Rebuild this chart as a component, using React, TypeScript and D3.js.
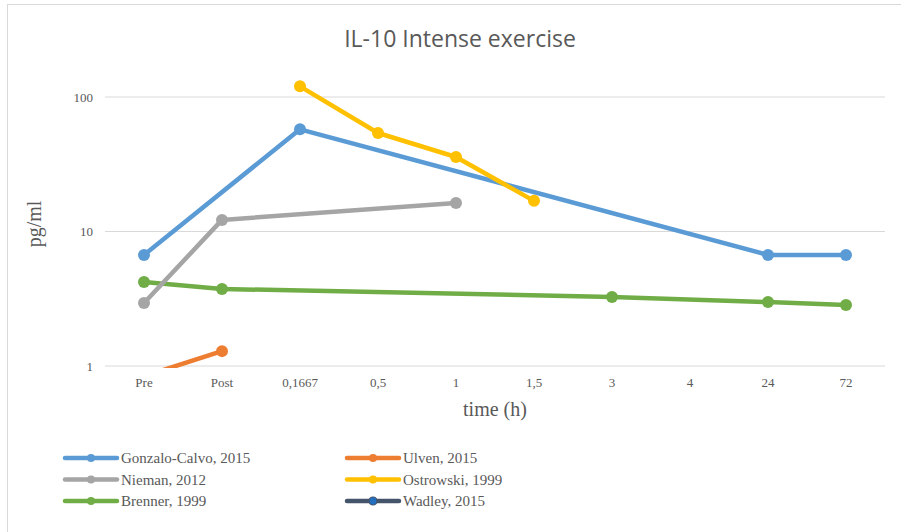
import React from "react";
import * as d3 from "d3";

const categories = ["Pre", "Post", "0,1667", "0,5", "1", "1,5", "3", "4", "24", "72"];
const gonzaloCalvo = [6.7, null, 57.5, null, null, null, null, null, 6.7, 6.7];
const ulven = [0.84, 1.29, null, null, null, null, null, null, null, null];
const nieman = [2.94, 12.2, null, null, 16.3, null, null, null, null, null];
const ostrowski = [null, null, 120, 54, 35.8, 16.9, null, null, null, null];
const brenner = [4.22, 3.74, null, null, null, null, 3.26, null, 2.99, 2.84];
const wadley: (number | null)[] = [null, null, null, null, null, null, null, null, null, null];
const yTicks = [1, 10, 100];

const series = [
  { name: "Gonzalo-Calvo, 2015", values: gonzaloCalvo, color: "#5b9bd5", marker: "#5b9bd5" },
  { name: "Ulven, 2015", values: ulven, color: "#ed7d31", marker: "#ed7d31" },
  { name: "Nieman, 2012", values: nieman, color: "#a5a5a5", marker: "#a5a5a5" },
  { name: "Ostrowski, 1999", values: ostrowski, color: "#ffc000", marker: "#ffc000" },
  { name: "Brenner, 1999", values: brenner, color: "#70ad47", marker: "#70ad47" },
  { name: "Wadley, 2015", values: wadley, color: "#44546a", marker: "#2470c0" },
];

const W = 901;
const H = 532;
const plotL = 105;
const plotR = 885;

export default function App() {
  const x = d3.scalePoint<string>().domain(categories).range([plotL, plotR]).padding(0.5);
  const y = d3.scaleLog().domain([1, 100]).range([366, 97]);
  const serif = "'Liberation Serif', 'Times New Roman', serif";
  const drawOrder = [4, 2, 0, 3, 1, 5];

  return (
    <svg width={W} height={H} style={{ position: "absolute", left: 0, top: 0, background: "#fff" }}>
      <defs>
        <clipPath id="plotclip">
          <rect x={0} y={0} width={W} height={368} />
        </clipPath>
      </defs>
      <rect x={7.5} y={4.5} width={W} height={H} fill="#fff" stroke="#d9d9d9" strokeWidth={1} />
      <text x={460} y={47} textAnchor="middle" fontFamily="'Open Sans', sans-serif" fontSize={23} fill="#595959">
        IL-10 Intense exercise
      </text>
      {yTicks.map((t) => (
        <g key={t}>
          <line x1={plotL} x2={plotR} y1={y(t)} y2={y(t)} stroke="#d9d9d9" strokeWidth={1} />
          <text x={93} y={y(t)} dy="0.35em" textAnchor="end" fontFamily={serif} fontSize={13} fill="#595959">
            {t}
          </text>
        </g>
      ))}
      {categories.map((c) => (
        <text key={c} x={x(c)} y={387} textAnchor="middle" fontFamily={serif} fontSize={13} fill="#595959">
          {c}
        </text>
      ))}
      <text x={495} y={416} textAnchor="middle" fontFamily={serif} fontSize={20} fill="#595959">
        time (h)
      </text>
      <text
        transform={`translate(41,224) rotate(-90)`}
        textAnchor="middle"
        fontFamily={serif}
        fontSize={20}
        fill="#595959"
      >
        pg/ml
      </text>
      <g clipPath="url(#plotclip)">
        {drawOrder.map((i) => {
          const s = series[i];
          const pts = categories
            .map((c, k) => ({ c, v: s.values[k] }))
            .filter((p) => p.v != null) as { c: string; v: number }[];
          const line = d3
            .line<{ c: string; v: number }>()
            .x((p) => x(p.c) as number)
            .y((p) => y(p.v));
          return (
            <g key={s.name}>
              <path d={line(pts) || ""} fill="none" stroke={s.color} strokeWidth={4.5} strokeLinejoin="round" />
              {pts.map((p) => (
                <circle key={p.c} cx={x(p.c)} cy={y(p.v)} r={6} fill={s.marker} />
              ))}
            </g>
          );
        })}
      </g>
      {series.map((s, i) => {
        const col = i % 2;
        const row = Math.floor(i / 2);
        const lx = col === 0 ? 65 : 347;
        const ly = 458 + row * 21.5;
        return (
          <g key={s.name}>
            <line x1={lx} x2={lx + 52} y1={ly} y2={ly} stroke={s.color} strokeWidth={4.5} strokeLinecap="round" />
            <circle cx={lx + 26} cy={ly} r={4} fill={s.marker} stroke={i === 5 ? s.color : "none"} strokeWidth={1.2} />
            <text x={lx + 56} y={ly + 5} fontFamily={serif} fontSize={15} fill="#595959">
              {s.name}
            </text>
          </g>
        );
      })}
    </svg>
  );
}
